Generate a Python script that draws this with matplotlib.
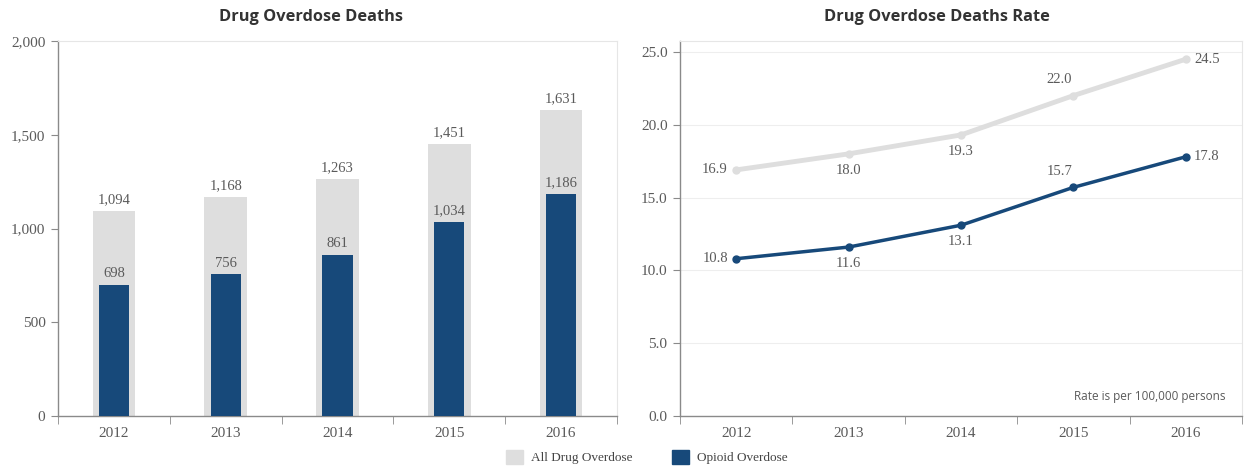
import numpy as np
import matplotlib.pyplot as plt
from matplotlib.patches import Patch

# Data
years = ["2012", "2013", "2014", "2015", "2016"]
all_deaths = [1094, 1168, 1263, 1451, 1631]
opioid_deaths = [698, 756, 861, 1034, 1186]
all_rate = [16.9, 18.0, 19.3, 22.0, 24.5]
opioid_rate = [10.8, 11.6, 13.1, 15.7, 17.8]

GREY = "#dedede"
BLUE = "#17497a"
TEXT = "#5a5a5a"
SPINE = "#8a8a8a"
SERIF = ["Liberation Serif", "DejaVu Serif"]

fig = plt.figure(figsize=(12.45, 4.7), dpi=100)
ax1 = fig.add_axes([58 / 1245, 1 - 416 / 470, 559 / 1245, 375 / 470])
ax2 = fig.add_axes([680 / 1245, 1 - 416 / 470, 562 / 1245, 375 / 470])

x = np.arange(len(years))


def style_axes(ax):
    for side in ["top", "right"]:
        ax.spines[side].set_color("#e6e6e6")
        ax.spines[side].set_linewidth(0.8)
    for side in ["left", "bottom"]:
        ax.spines[side].set_color(SPINE)
        ax.spines[side].set_linewidth(1.0)
    ax.set_xlim(-0.5, len(years) - 0.5)
    ax.set_xticks(x)
    ax.set_xticklabels(years, family=SERIF, fontsize=11, color=TEXT)
    ax.set_xticks(np.arange(-0.5, len(years)), minor=True)
    ax.tick_params(axis="x", which="major", length=0, pad=8)
    ax.tick_params(axis="x", which="minor", length=6, color=SPINE, direction="out")
    ax.tick_params(axis="y", length=5, color=SPINE, pad=4)
    for lab in ax.get_yticklabels():
        lab.set_family(SERIF)
        lab.set_fontsize(11)
        lab.set_color(TEXT)


# Left: bars
ax1.bar(x, all_deaths, width=0.38, color=GREY, zorder=2)
ax1.bar(x, opioid_deaths, width=0.27, color=BLUE, zorder=3)
for xi, v in zip(x, all_deaths):
    ax1.text(xi, v + 25, f"{v:,}", ha="center", va="bottom", family=SERIF,
             fontsize=10.5, color=TEXT)
for xi, v in zip(x, opioid_deaths):
    ax1.text(xi, v + 25, f"{v:,}", ha="center", va="bottom", family=SERIF,
             fontsize=10.5, color=TEXT)
ax1.set_ylim(0, 2000)
ax1.set_yticks([0, 500, 1000, 1500, 2000])
ax1.set_yticklabels([f"{t:,}" for t in [0, 500, 1000, 1500, 2000]])
style_axes(ax1)
fig.text(311 / 1245, 1 - 17 / 470, "Drug Overdose Deaths", ha="center", va="center",
         fontsize=11.8, fontweight="bold", family="Open Sans", color="#333333")

# Right: lines
ax2.set_ylim(0, 25.75)
ax2.set_yticks([0, 5, 10, 15, 20, 25])
ax2.set_yticklabels([f"{t:.1f}" for t in [0, 5, 10, 15, 20, 25]])
ax2.grid(axis="y", color="#eeeeee", linewidth=0.8, zorder=0)
ax2.plot(x, all_rate, color=GREY, lw=3.5, marker="o", ms=5, zorder=3)
ax2.plot(x, opioid_rate, color=BLUE, lw=2.5, marker="o", ms=5, zorder=4)

# label placement: (dx points, dy points, ha, va)
pos = [(-6, 0, "right", "center"), (0, -7, "center", "top"), (0, -7, "center", "top"),
       (-10, 7, "center", "bottom"), (6, 0, "left", "center")]
for series in (all_rate, opioid_rate):
    for xi, v, (dx, dy, ha, va) in zip(x, series, pos):
        ax2.annotate(f"{v:.1f}", (xi, v), xytext=(dx, dy), textcoords="offset points",
                     ha=ha, va=va, family=SERIF, fontsize=10.5, color=TEXT)
ax2.text(0.97, 0.035, "Rate is per 100,000 persons", transform=ax2.transAxes,
         ha="right", va="bottom", fontsize=8.5, family="Open Sans", color=TEXT)
style_axes(ax2)
fig.text(937 / 1245, 1 - 17 / 470, "Drug Overdose Deaths Rate", ha="center", va="center",
         fontsize=11.8, fontweight="bold", family="Open Sans", color="#333333")

handles = [Patch(color=GREY, label="All Drug Overdose"),
           Patch(color=BLUE, label="Opioid Overdose")]
leg = fig.legend(handles=handles, loc="center", bbox_to_anchor=(647 / 1245, 1 - 457 / 470),
                 ncol=2, frameon=False, handlelength=1.3, handleheight=1.3,
                 columnspacing=3, handletextpad=0.6,
                 prop={"family": SERIF, "size": 9.5})
for t in leg.get_texts():
    t.set_color("#444444")

fig.savefig("out.png", dpi=100)
